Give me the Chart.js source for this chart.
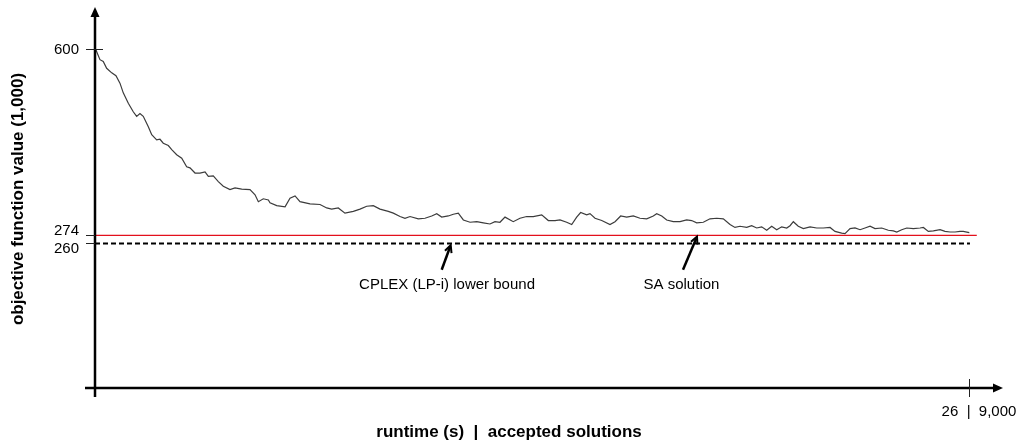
<!DOCTYPE html>
<html>
<head>
<meta charset="utf-8">
<script src="https://cdn.jsdelivr.net/npm/chart.js@4"></script>
<style>
html,body{margin:0;padding:0;background:#fff;}
canvas{display:block;}
</style>
</head>
<body>
<canvas id="c" width="1018" height="445"></canvas>
<script>
// accepted solutions (x) and objective function value in 1,000 (y)
const accepted = [10,51,85,120,172,216,257,291,343,394,429,463,497,549,584,635,669,703,755,790,
841,893,944,978,1030,1081,1133,1167,1218,1270,1321,1390,1442,1511,1596,1648,1682,1733,1785,1802,
1871,1957,2008,2060,2111,2214,2317,2386,2437,2505,2574,2660,2729,2798,2866,2935,3020,3072,3141,3192,
3244,3329,3398,3467,3519,3570,3638,3690,3741,3793,3862,3931,3999,4067,4119,4170,4222,4307,4376,4445,
4513,4600,4668,4737,4788,4857,4909,4960,5001,5063,5097,5149,5218,5303,5355,5413,5475,5543,5612,5681,
5749,5784,5836,5887,5955,6024,6093,6144,6196,6264,6333,6402,6470,6539,6590,6642,6711,6762,6814,6865,
6917,6968,7020,7071,7123,7157,7191,7242,7294,7363,7432,7500,7569,7620,7689,7723,7775,7826,7878,7929,
7981,8032,8101,8169,8221,8256,8307,8359,8427,8496,8530,8581,8633,8702,8753,8805,8856,8907,8941,9003];
const objective = [598,581,578,566,558,553,540,523,505,490,482,487,482,464,450,441,442,435,431,424,
415,409,394,392,383,383,385,377,378,368,360,354,357,355,354,345,333,338,336,331,
326,324,339,343,333,329,328,322,320,322,313,316,320,325,326,320,316,313,307,304,
307,303,304,308,312,306,308,311,313,301,297,298,296,294,298,297,306,298,304,307,
307,310,300,300,301,297,293,306,314,310,312,304,300,293,298,308,306,308,304,303,
308,312,308,301,298,298,301,300,296,297,303,304,303,293,288,290,288,291,287,289,
283,290,284,289,287,291,298,290,286,289,287,287,288,281,278,277,286,287,284,287,
290,286,287,283,282,280,284,287,286,287,288,281,282,284,281,280,280,281,281,279];

const saSolution = 274;      // SA solution (red line)
const lowerBound = 260;      // CPLEX (LP-i) lower bound (dashed)
const saLineEnd = 9080;
const boundLineEnd = 9010;

const yTickValues = [600, 274, 260];
const yTickLabels = ["600", "274", "260"];
const xTickValue = 9000;
const xTickLabel = "26  |  9,000";
const yTitle = "objective function value (1,000)";
const xTitle = "runtime (s)  |  accepted solutions";
const noteBound = "CPLEX (LP-i) lower bound";
const noteSA = "SA solution";

const curve = accepted.map((x, i) => ({x: x, y: objective[i]}));

const FONT = "'Liberation Sans', Arial, Helvetica, sans-serif";

function arrowHead(ctx, x1, y1, x2, y2, len, wid) {
  const a = Math.atan2(y2 - y1, x2 - x1);
  ctx.beginPath();
  ctx.moveTo(x2, y2);
  ctx.lineTo(x2 - len * Math.cos(a) + wid * Math.sin(a), y2 - len * Math.sin(a) - wid * Math.cos(a));
  ctx.lineTo(x2 - len * Math.cos(a) - wid * Math.sin(a), y2 - len * Math.sin(a) + wid * Math.cos(a));
  ctx.closePath();
  ctx.fill();
}

const decor = {
  id: 'decor',
  afterDatasetsDraw(chart) {
    const ctx = chart.ctx;
    const xs = chart.scales.x, ys = chart.scales.y;
    const ca = chart.chartArea;
    const x0 = xs.getPixelForValue(0);
    const yBase = ca.bottom;
    ctx.save();
    ctx.strokeStyle = '#000';
    ctx.fillStyle = '#000';
    // y axis
    ctx.lineWidth = 2.5;
    ctx.beginPath();
    ctx.moveTo(x0, yBase + 9);
    ctx.lineTo(x0, ca.top + 8);
    ctx.stroke();
    arrowHead(ctx, x0, yBase, x0, ca.top, 10, 4.5);
    // x axis
    ctx.beginPath();
    ctx.moveTo(x0 - 10, yBase);
    ctx.lineTo(ca.right - 8, yBase);
    ctx.stroke();
    arrowHead(ctx, x0, yBase, ca.right, yBase, 10, 4.5);

    // y ticks
    ctx.lineWidth = 1;
    ctx.strokeStyle = '#222';
    ctx.font = '15px ' + FONT;
    ctx.textAlign = 'right';
    ctx.textBaseline = 'middle';
    const offs = [0, -4.5, 5.5];
    yTickValues.forEach((v, i) => {
      const py = Math.round(ys.getPixelForValue(v)) + 0.5;
      ctx.beginPath();
      ctx.moveTo(x0 - 9, py);
      ctx.lineTo(i === 0 ? x0 + 8 : x0, py);
      ctx.stroke();
      ctx.fillText(yTickLabels[i], x0 - 16, py + offs[i]);
    });
    // x tick
    const px = Math.round(xs.getPixelForValue(xTickValue)) + 0.5;
    ctx.beginPath();
    ctx.moveTo(px, yBase - 9);
    ctx.lineTo(px, yBase + 9);
    ctx.stroke();
    ctx.textAlign = 'center';
    ctx.fillText(xTickLabel, px + 9.5, yBase + 24);

    // titles
    ctx.font = 'bold 17px ' + FONT;
    ctx.fillText(xTitle, 509, 432);
    ctx.save();
    ctx.translate(18, 199);
    ctx.rotate(-Math.PI / 2);
    ctx.fillText(yTitle, 0, 0);
    ctx.restore();

    // annotations
    const notes = [
      {text: noteBound, tx: 3625, ty: 188, ax1: 3570, ay1: 214, ax2: 3663, ay2: 257},
      {text: noteSA, tx: 6039, ty: 188, ax1: 6055, ay1: 214, ax2: 6199, ay2: 272}
    ];
    ctx.font = '15px ' + FONT;
    notes.forEach(n => {
      ctx.fillStyle = '#000';
      ctx.fillText(n.text, xs.getPixelForValue(n.tx), ys.getPixelForValue(n.ty));
      const x1 = xs.getPixelForValue(n.ax1), y1 = ys.getPixelForValue(n.ay1);
      const x2 = xs.getPixelForValue(n.ax2), y2 = ys.getPixelForValue(n.ay2);
      const a = Math.atan2(y2 - y1, x2 - x1);
      ctx.strokeStyle = '#000';
      ctx.lineWidth = 2.5;
      ctx.beginPath();
      ctx.moveTo(x1, y1);
      ctx.lineTo(x2 - 2 * Math.cos(a), y2 - 2 * Math.sin(a));
      ctx.stroke();
      ctx.lineWidth = 2;
      ctx.beginPath();
      ctx.moveTo(x2 - 8 * Math.cos(a - 0.45), y2 - 8 * Math.sin(a - 0.45));
      ctx.lineTo(x2, y2);
      ctx.lineTo(x2 - 8 * Math.cos(a + 0.45), y2 - 8 * Math.sin(a + 0.45));
      ctx.stroke();
    });
    ctx.restore();
  }
};

new Chart(document.getElementById('c'), {
  type: 'line',
  data: {
    datasets: [
      {data: curve, borderColor: '#3c3c3c', borderWidth: 1.2, pointRadius: 0, tension: 0, fill: false},
      {data: [{x: 0, y: saSolution}, {x: saLineEnd, y: saSolution}], borderColor: '#e3101c', borderWidth: 1.2, pointRadius: 0, fill: false},
      {data: [{x: 0, y: lowerBound}, {x: boundLineEnd, y: lowerBound}], borderColor: '#000', borderWidth: 2, borderDash: [5, 3], pointRadius: 0, fill: false}
    ]
  },
  options: {
    responsive: false,
    animation: false,
    layout: {padding: {left: 95, top: 7, right: 15, bottom: 57}},
    plugins: {legend: {display: false}, tooltip: {enabled: false}},
    scales: {
      x: {type: 'linear', min: 0, max: 9350, display: false},
      y: {type: 'linear', min: 7.5, max: 673, display: false}
    }
  },
  plugins: [decor]
});
</script>
</body>
</html>
